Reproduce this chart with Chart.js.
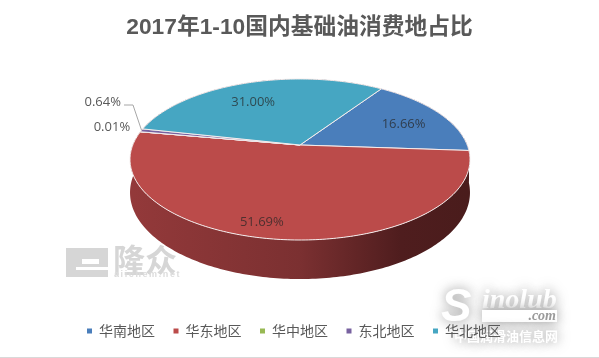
<!DOCTYPE html>
<html>
<head>
<meta charset="utf-8">
<title>2017年1-10国内基础油消费地占比</title>
<script src="https://cdn.jsdelivr.net/npm/chart.js@4/dist/chart.umd.min.js"></script>
<style>
html,body{margin:0;padding:0;background:#fff;overflow:hidden}
#wrap{width:599px;height:358px;position:relative}
#wrap:after{content:"";position:absolute;left:0;right:0;bottom:0;height:1px;background:#d9d9d9}
canvas{display:block}
</style>
</head>
<body>
<div id="wrap"><canvas id="shareChart" width="599" height="358"></canvas></div>
<script>
var chartTitle = "2017年1-10国内基础油消费地占比"
var regions = ["华南地区","华东地区","华中地区","东北地区","华北地区"]
var shares = [16.66,51.69,0.01,0.64,31.00]
var shareLabels = ["16.66%","51.69%","0.01%","0.64%","31.00%"]

var sliceColors = ["#4a7ebb","#bb4b4a","#98b954","#7862a0","#46a6c2"]

// the pie lies tilted: k is the perspective, h the squashed height
var pie = {x:300,y:145,r:167.2,h:77.9,k:0.18,depth:32}
// label place: radius on the disc and a small turn from the middle of the slice (degrees)
var labelRadius = [0.71,0.86,1.198,1.446,0.69]
var labelTurn = [2.5,6,1.5,13.8,-5]

function project(angle,f,drop){
    var X = Math.cos(angle)*f
    var Y = Math.sin(angle)*f
    var s = 1/(1-pie.k*Y)
    return {x:pie.x+pie.r*X*s, y:pie.y+pie.h*Y*s+(drop||0)*s}
}

function rimPoints(a0,a1,drop){
    var pts = []
    var n = Math.max(1,Math.ceil((a1-a0)/(Math.PI/180)))
    for(let i=0; i<=n; i++){
        pts.push(project(a0+(a1-a0)*i/n,1,drop))
    }
    return pts
}

var tiltedPie = {
    id:"tiltedPie",
    afterLayout:function(chart){
        // legend sits a little left of the middle
        chart.legend.left -= 5.5
        chart.legend.right -= 5.5
    },
    beforeDraw:function(chart){
        drawWatermarks(chart.ctx)
    },
    beforeDatasetsDraw:function(chart){
        var ctx = chart.ctx
        var arcs = chart.getDatasetMeta(0).data

        var wall = ctx.createLinearGradient(pie.x-pie.r,0,pie.x+pie.r,0)
        wall.addColorStop(0,"#93393a")
        wall.addColorStop(0.5,"#7b3031")
        wall.addColorStop(0.8,"#4f1d1e")
        wall.addColorStop(1,"#4a1c1c")

        ctx.save()
        arcs.forEach(function(arc){
            var top = rimPoints(arc.startAngle,arc.endAngle,0)
            var low = rimPoints(arc.startAngle,arc.endAngle,pie.depth).reverse()
            ctx.beginPath()
            top.concat(low).forEach(function(p,i){
                if(i==0) ctx.moveTo(p.x,p.y)
                else ctx.lineTo(p.x,p.y)
            })
            ctx.closePath()
            ctx.fillStyle = wall
            ctx.fill()
        })
        arcs.forEach(function(arc,i){
            var rim = rimPoints(arc.startAngle,arc.endAngle,0)
            ctx.beginPath()
            ctx.moveTo(pie.x,pie.y)
            rim.forEach(function(p){ ctx.lineTo(p.x,p.y) })
            ctx.closePath()
            ctx.fillStyle = sliceColors[i]
            ctx.fill()
            ctx.strokeStyle = "#f4ecec"
            ctx.lineWidth = 1
            ctx.stroke()
        })
        ctx.restore()
        return false
    },
    afterDraw:function(chart){
        var ctx = chart.ctx
        var arcs = chart.getDatasetMeta(0).data

        // leader of the small slice
        var end = project((arcs[3].startAngle+arcs[3].endAngle)/2,1)
        ctx.save()
        ctx.strokeStyle = "#a6a6a6"
        ctx.lineWidth = 1
        ctx.beginPath()
        ctx.moveTo(124,105)
        ctx.lineTo(133,105)
        ctx.lineTo(end.x,end.y)
        ctx.stroke()

        ctx.font = "13px 'Open Sans'"
        ctx.textAlign = "center"
        ctx.textBaseline = "middle"
        arcs.forEach(function(arc,i){
            var mid = (arc.startAngle+arc.endAngle)/2+labelTurn[i]*Math.PI/180
            var p = project(mid,labelRadius[i])
            ctx.fillStyle = labelRadius[i]>1 ? "#595959" : "rgba(38,38,38,0.72)"
            ctx.fillText(shareLabels[i],p.x,p.y)
        })
        ctx.restore()
    }
}

function drawWatermarks(ctx){
    ctx.save()
    // 隆众 mark, lower left
    ctx.fillStyle = "#d6d6d6"
    ctx.fillRect(66,248,42,29)
    ctx.fillStyle = "#ffffff"
    ctx.fillRect(82,259,17,5)
    ctx.fillRect(76,267,32,3)
    ctx.fillStyle = "#d6d6d6"
    ctx.font = "bold 32px 'Noto Sans CJK SC'"
    ctx.textBaseline = "middle"
    ctx.fillText("隆众",113,260)
    ctx.fillStyle = "#dcdcdc"
    ctx.font = "bold 9px 'Liberation Sans'"
    ctx.letterSpacing = "1.6px"
    ctx.fillText("aiichem.net",114,275)
    ctx.letterSpacing = "0px"

    // Sinolub mark, lower right, white with a soft shadow
    ctx.shadowColor = "rgba(90,90,90,0.65)"
    ctx.shadowBlur = 12
    ctx.fillStyle = "#ffffff"
    ctx.textBaseline = "alphabetic"
    ctx.font = "italic bold 46px 'Liberation Sans'"
    ctx.fillText("S",441,321)
    ctx.font = "italic bold 28px 'Liberation Serif'"
    ctx.fillText("inolub",482,308)
    ctx.fillRect(482,310,75,12)
    ctx.font = "bold 13px 'Noto Sans CJK SC'"
    ctx.fillText("中国润滑油信息网",454,341)
    ctx.shadowBlur = 0
    ctx.fillStyle = "#9a9a9a"
    ctx.font = "italic bold 14px 'Liberation Serif'"
    ctx.textAlign = "right"
    ctx.fillText(".com",556,320)
    ctx.restore()
}

var shareChart = new Chart(document.getElementById("shareChart"),{
    type:"pie",
    plugins:[tiltedPie],
    data:{
        labels:regions,
        datasets:[{
            data:shares,
            backgroundColor:sliceColors,
            borderWidth:0
        }]
    },
    options:{
        responsive:false,
        animation:false,
        rotation:34,
        layout:{padding:{bottom:10}},
        plugins:{
            tooltip:{enabled:false},
            title:{
                display:true,
                text:chartTitle,
                color:"#595959",
                font:{family:"'Liberation Sans','Noto Sans CJK SC'",size:22.75,weight:"bold"},
                padding:{top:14,bottom:10}
            },
            legend:{
                position:"bottom",
                labels:{
                    boxWidth:5,
                    boxHeight:5,
                    padding:18.5,
                    color:"#595959",
                    font:{family:"'Noto Sans CJK SC'",size:14}
                }
            }
        }
    }
})
</script>
</body>
</html>
